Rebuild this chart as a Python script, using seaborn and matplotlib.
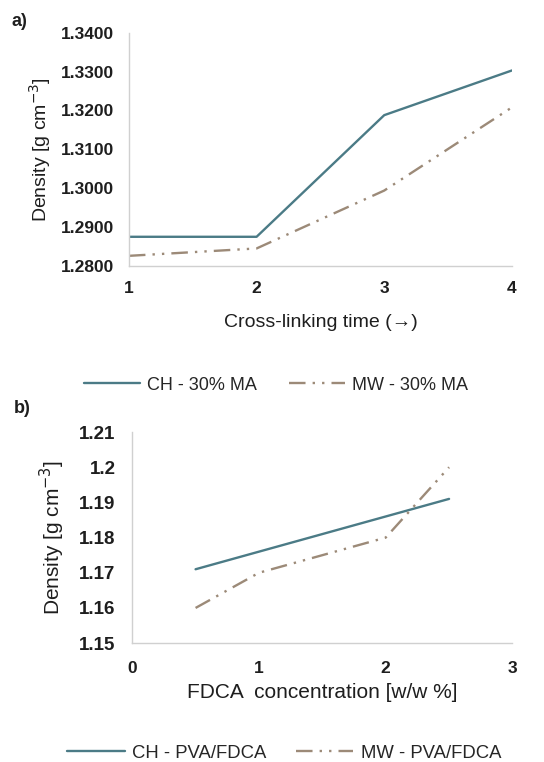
import matplotlib
matplotlib.use("Agg")
import matplotlib.pyplot as plt
import seaborn as sns
import pandas as pd

# Panel a: density vs cross-linking time
time_a = [1, 2, 3, 4]
ch_ma = [1.2875, 1.2875, 1.3188, 1.3303]
mw_ma = [1.2826, 1.2845, 1.2994, 1.3208]

# Panel b: density vs FDCA concentration
fdca_b = [0.5, 1.0, 1.5, 2.0, 2.5]
ch_fdca = [1.171, 1.176, 1.181, 1.186, 1.191]
mw_fdca = [1.160, 1.170, 1.175, 1.180, 1.200]

labels_a = ["CH - 30% MA", "MW - 30% MA"]
labels_b = ["CH - PVA/FDCA", "MW - PVA/FDCA"]
yticks_a = [1.28, 1.29, 1.30, 1.31, 1.32, 1.33, 1.34]
yticks_b = [1.15, 1.16, 1.17, 1.18, 1.19, 1.20, 1.21]
ytick_labels_b = ["1.15", "1.16", "1.17", "1.18", "1.19", "1.2", "1.21"]

sns.set_theme(style="white")
plt.rcParams["font.family"] = ["Liberation Sans", "DejaVu Sans"]

CH_COLOR = "#4b7b86"
MW_COLOR = "#9c8a78"
MW_DASH = (7, 3, 1, 3, 1, 3)
TEXT = "#1e1e1e"

df_a = pd.DataFrame({
    "x": time_a * 2,
    "y": ch_ma + mw_ma,
    "series": [labels_a[0]] * len(time_a) + [labels_a[1]] * len(time_a),
})
df_b = pd.DataFrame({
    "x": fdca_b * 2,
    "y": ch_fdca + mw_fdca,
    "series": [labels_b[0]] * len(fdca_b) + [labels_b[1]] * len(fdca_b),
})

fig = plt.figure(figsize=(5.44, 7.62), dpi=100)
ax_a = fig.add_axes([0.237, 0.651, 0.704, 0.306])
ax_b = fig.add_axes([0.243, 0.156, 0.699, 0.277])


def draw(ax, df, labels):
    sns.lineplot(
        data=df, x="x", y="y", hue="series", style="series",
        palette={labels[0]: CH_COLOR, labels[1]: MW_COLOR},
        dashes={labels[0]: "", labels[1]: MW_DASH},
        linewidth=1.7, ax=ax, legend=True,
    )
    for side in ["top", "right"]:
        ax.spines[side].set_visible(False)
    for side in ["left", "bottom"]:
        ax.spines[side].set_color("#d0d0d0")
        ax.spines[side].set_linewidth(1.0)
    ax.tick_params(axis="both", length=0, colors=TEXT)


draw(ax_a, df_a, labels_a)
ax_a.set_xlim(1, 4)
ax_a.set_ylim(1.28, 1.34)
ax_a.set_xticks(time_a)
ax_a.set_xticklabels([str(t) for t in time_a], fontweight="bold", fontsize=12.5)
ax_a.set_yticks(yticks_a)
ax_a.set_yticklabels([f"{v:.4f}" for v in yticks_a], fontweight="bold", fontsize=12.5)
ax_a.tick_params(axis="y", pad=11)
ax_a.tick_params(axis="x", pad=11)
ax_a.set_xlabel("Cross-linking time (\u2192)", fontsize=14, color=TEXT, labelpad=13)
ax_a.set_ylabel("Density [g cm$^{-3}$]", fontsize=14, color=TEXT)
ax_a.yaxis.set_label_coords(-0.198, 0.5)
ax_a.legend(
    loc="center", bbox_to_anchor=(0.384, -0.511), ncol=2, frameon=False,
    fontsize=13, handlelength=3.1, columnspacing=1.8, handletextpad=0.4,
)

draw(ax_b, df_b, labels_b)
ax_b.set_xlim(0, 3)
ax_b.set_ylim(1.15, 1.21)
ax_b.set_xticks([0, 1, 2, 3])
ax_b.set_xticklabels(["0", "1", "2", "3"], fontweight="bold", fontsize=12.5)
ax_b.set_yticks(yticks_b)
ax_b.set_yticklabels(ytick_labels_b, fontweight="bold", fontsize=13.5)
ax_b.tick_params(axis="y", pad=12)
ax_b.tick_params(axis="x", pad=13)
ax_b.set_xlabel("FDCA  concentration [w/w %]", fontsize=15, color=TEXT, labelpad=5)
ax_b.set_ylabel("Density [g cm$^{-3}$]", fontsize=15, color=TEXT)
ax_b.yaxis.set_label_coords(-0.172, 0.5)
ax_b.legend(
    loc="center", bbox_to_anchor=(0.40, -0.521), ncol=2, frameon=False,
    fontsize=13.3, handlelength=3.1, columnspacing=1.6, handletextpad=0.4,
)

fig.text(0.022, 1 - 22 / 762, "a)", fontsize=13, fontweight="bold", va="center", ha="left", color=TEXT)
fig.text(0.026, 1 - 408 / 762, "b)", fontsize=13, fontweight="bold", va="center", ha="left", color=TEXT)

fig.savefig("out.png", dpi=100, facecolor="white")
